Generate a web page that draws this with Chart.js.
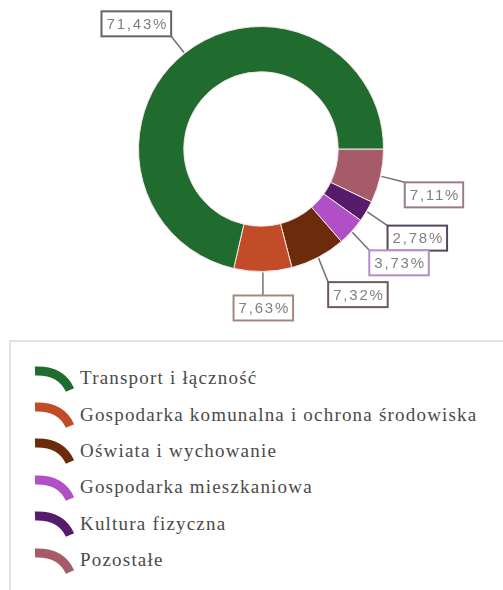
<!DOCTYPE html>
<html lang="pl">
<head>
<meta charset="utf-8">
<title>Struktura wydatków</title>
<script src="https://cdn.jsdelivr.net/npm/chart.js@4/dist/chart.umd.min.js"></script>
<style>
  html, body { margin: 0; padding: 0; background: #fff; overflow: hidden; }
  body { width: 503px; height: 590px; position: relative; }
  #wrap { position: absolute; left: 0; top: 0; width: 503px; height: 330px; }
  #legend {
    position: absolute; left: 9px; top: 340px; width: 520px; height: 270px;
    border: 2px solid #e2e2e2; box-sizing: border-box;
  }
  #legend ul { list-style: none; margin: 0; padding: 18px 0 0 21px; }
  #legend li { display: flex; align-items: center; height: 36.4px; }
  #legend svg { width: 43px; height: 29px; margin-right: 5px; flex: none; }
  #legend span {
    font-family: "Liberation Serif", "DejaVu Serif", serif; font-size: 19px;
    color: #4a4a4a; letter-spacing: 1.2px; white-space: nowrap;
  }
</style>
</head>
<body>
<div id="wrap"><canvas id="chart"></canvas></div>
<div id="legend"></div>
<script>
// legend order
const categories = [
  "Transport i łączność",
  "Gospodarka komunalna i ochrona środowiska",
  "Oświata i wychowanie",
  "Gospodarka mieszkaniowa",
  "Kultura fizyczna",
  "Pozostałe"
];
const shares = [71.43, 7.63, 7.32, 3.73, 2.78, 7.11];
const colors = ["#206c2e", "#c24c28", "#6c2b0a", "#b04fc6", "#571b6c", "#a65b69"];
const labelBorders = ["#5d6b5e", "#a88680", "#6e5a56", "#b88cc6", "#54465e", "#9a7d88"];

// slices run clockwise from 3 o'clock in reverse legend order
const rev = a => a.slice().reverse();

const fmt = v => v.toFixed(2).replace(".", ",") + "%";

const calloutPlugin = {
  id: "callouts",
  afterDatasetsDraw(chart) {
    const ctx = chart.ctx;
    const meta = chart.getDatasetMeta(0);
    const ds = chart.data.datasets[0];
    ctx.save();
    ctx.font = "15px 'Liberation Sans', Arial, sans-serif";
    ctx.letterSpacing = "1.8px";
    meta.data.forEach((arc, i) => {
      const { x, y, startAngle, endAngle, outerRadius } = arc.getProps(
        ["x", "y", "startAngle", "endAngle", "outerRadius"], true);
      const mid = (startAngle + endAngle) / 2;
      const c = Math.cos(mid), s = Math.sin(mid);
      const text = fmt(ds.data[i]);
      const w = ctx.measureText(text).width + 8;
      const h = 25;
      const px = x + (outerRadius + 28) * c;
      const py = y + (outerRadius + 28) * s;
      let bx, by;
      if (Math.abs(c) < 0.25) {
        bx = px - w / 2;
        by = s > 0 ? py - 4 : py - h + 4;
      } else if (c > 0) {
        bx = px - 3;
        by = s >= 0 ? py : py - h;
      } else {
        bx = px - w + 4;
        by = s < 0 ? py - h + 5 : py;
      }
      // leader line from the ring edge to the closest point of the box
      const sx = x + (outerRadius + 1) * c;
      const sy = y + (outerRadius + 1) * s;
      const ex = Math.min(Math.max(sx, bx), bx + w);
      const ey = Math.min(Math.max(sy, by), by + h);
      ctx.strokeStyle = "#707070";
      ctx.lineWidth = 1.5;
      ctx.beginPath();
      ctx.moveTo(sx, sy);
      ctx.lineTo(ex, ey);
      ctx.stroke();

      ctx.fillStyle = "#fff";
      ctx.fillRect(bx, by, w, h);
      ctx.strokeStyle = ds.labelBorder[i];
      ctx.lineWidth = 2;
      ctx.strokeRect(bx, by, w, h);
      ctx.fillStyle = "#808080";
      ctx.textAlign = "center";
      ctx.textBaseline = "middle";
      ctx.fillText(text, bx + w / 2 + 1, by + h / 2 + 1);
    });
    ctx.restore();
  }
};

const chart = new Chart(document.getElementById("chart"), {
  type: "doughnut",
  data: {
    labels: rev(categories),
    datasets: [{
      data: rev(shares),
      backgroundColor: rev(colors),
      labelBorder: rev(labelBorders),
      borderColor: "#f4e6e6",
      borderWidth: 1
    }]
  },
  options: {
    responsive: true,
    maintainAspectRatio: false,
    animation: false,
    rotation: 90,
    cutout: "63%",
    layout: {
      padding: { top: 26, bottom: 58, left: 138, right: 119 }
    },
    plugins: {
      legend: { display: false },
      tooltip: { enabled: false }
    }
  },
  plugins: [calloutPlugin]
});

// HTML legend built from the chart's own legend items, in legend order
const items = chart.options.plugins.legend.labels.generateLabels(chart).reverse();
const ul = document.createElement("ul");
items.forEach(item => {
  const li = document.createElement("li");
  li.innerHTML =
    '<svg viewBox="0 0 43 29"><path d="M3 7 Q 29 6 38 26" fill="none" stroke="' +
    item.fillStyle + '" stroke-width="9"/></svg>';
  const span = document.createElement("span");
  span.textContent = item.text;
  li.appendChild(span);
  ul.appendChild(li);
});
document.getElementById("legend").appendChild(ul);
</script>
</body>
</html>
